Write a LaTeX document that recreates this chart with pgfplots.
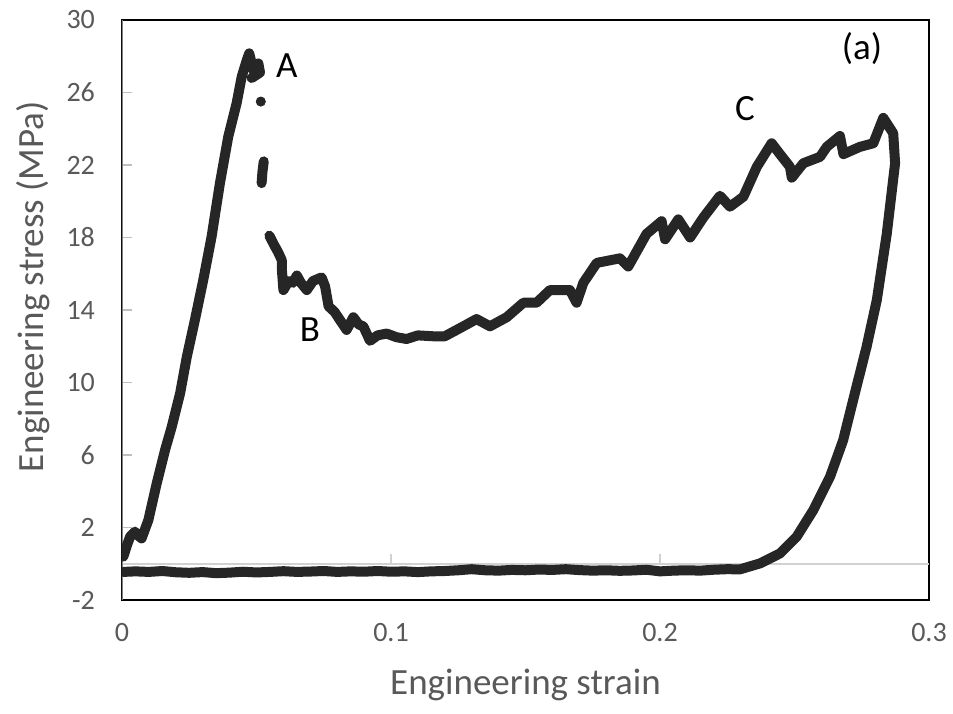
\documentclass[border=0pt]{standalone}
\usepackage{fontspec}
\setmainfont{Carlito}
\usepackage{pgfplots}
\pgfplotsset{compat=1.18}
\definecolor{tickgray}{HTML}{595959}
\definecolor{curvecol}{HTML}{262626}
\tikzset{curve/.style={draw=curvecol, line width=5pt, line join=round, line cap=round, mark=none}}
\begin{document}
\begin{tikzpicture}
\path[use as bounding box] (-61pt,-56.5pt) rectangle (415.5pt,300pt);
\begin{axis}[
  at={(0,0)}, anchor=south west, scale only axis,
  width=403.5pt, height=290pt,
  xmin=0, xmax=0.3, ymin=-2, ymax=30,
  axis line style={black, line width=1pt},
  xtick={0,0.1,0.2,0.3}, xticklabels={0,0.1,0.2,0.3},
  ytick={-2,2,6,10,14,18,22,26,30}, yticklabels={-2,2,6,10,14,18,22,26,30},
  xtick style={draw=none},
  ytick pos=left, tick align=inside,
  ytick style={draw=black!25, line width=0.6pt},
  major tick length=5pt,
  ticklabel style={font=\fontsize{14}{16}\selectfont, text=tickgray},
  yticklabel style={xshift=-10pt},
  xticklabel style={yshift=-8pt},
  xlabel={Engineering strain},
  ylabel={Engineering stress (MPa)},
  label style={font=\fontsize{18.5}{22}\selectfont, text=tickgray},
  xlabel style={at={(axis description cs:0.5,0)}, anchor=center, yshift=-42.5pt},
  ylabel style={at={(axis description cs:-0.11,0.54)}, anchor=center},
]
\draw[black!18, line width=0.8pt] (axis cs:0,0) -- (axis cs:0.3,0);
\draw[black!18, line width=0.8pt] (axis cs:0.1,0) -- ([yshift=5pt]axis cs:0.1,0);
\draw[black!18, line width=0.8pt] (axis cs:0.2,0) -- ([yshift=5pt]axis cs:0.2,0);
\draw[black!50, line width=1.2pt] (rel axis cs:0,0) -- (rel axis cs:0,1);
% loading branch
\addplot[curve] coordinates {
(0.0005,0.39) (0.0018,1.0) (0.0030,1.49) (0.0048,1.77) (0.0060,1.55) (0.0073,1.40)
(0.0098,2.41) (0.0129,4.43) (0.0160,6.27) (0.0185,7.56) (0.0216,9.40)
(0.0241,11.42) (0.0271,13.45) (0.0302,15.65) (0.0333,18.04) (0.0364,20.99)
(0.0395,23.56) (0.0426,25.40) (0.0445,26.87) (0.0464,27.79) (0.0473,28.16)
(0.0488,27.24) (0.0507,27.6) (0.0513,27.1) (0.0482,26.8)
};
% isolated points after the peak
\addplot[only marks, mark=*, mark size=2.3pt, color=curvecol] coordinates {(0.0516,25.5)};
\addplot[curve] coordinates {(0.0527,22.2) (0.0522,21.6) (0.0519,21.0)};
% plateau, densification, unloading and return
\addplot[curve] coordinates {
(0.0548,18.1) (0.0565,17.6) (0.058,17.2) (0.0594,16.75) (0.0594,16.3)
(0.060,15.1) (0.062,15.6) (0.0635,15.5) (0.065,15.9) (0.0665,15.5)
(0.0687,15.1) (0.071,15.6) (0.0742,15.8) (0.0755,15.3) (0.0768,14.2)
(0.079,13.9) (0.081,13.45) (0.0835,12.9) (0.086,13.6) (0.088,13.2)
(0.0897,13.1) (0.0922,12.3) (0.095,12.6) (0.0984,12.7) (0.102,12.5)
(0.1058,12.4) (0.11,12.6) (0.1157,12.55) (0.12,12.55) (0.1269,13.1)
(0.1318,13.5) (0.1368,13.1) (0.143,13.6) (0.1492,14.4) (0.1541,14.4)
(0.1591,15.1) (0.1665,15.1) (0.169,14.4) (0.1715,15.5) (0.1765,16.6)
(0.1851,16.85) (0.1882,16.4) (0.195,18.2) (0.2006,18.9) (0.2019,17.9)
(0.2068,19.0) (0.2112,18.0) (0.2161,19.1) (0.2223,20.3) (0.226,19.7)
(0.231,20.25) (0.236,21.9) (0.2415,23.2) (0.2446,22.6) (0.2483,21.9)
(0.249,21.3) (0.2533,22.1) (0.2595,22.45) (0.262,23.0) (0.2669,23.6)
(0.2682,22.6) (0.2743,23.0) (0.2793,23.2) (0.283,24.6) (0.2867,23.75)
(0.2874,22.1) (0.2843,18.2) (0.2806,14.55) (0.2768,11.97) (0.2718,9.03)
(0.2681,6.82) (0.2632,4.8) (0.257,2.96) (0.2508,1.49) (0.2446,0.57)
(0.2372,0.02) (0.2297,-0.31) (0.225,-0.30) (0.22,-0.33) (0.215,-0.38)
(0.21,-0.36) (0.205,-0.38) (0.20,-0.42) (0.195,-0.33) (0.19,-0.37)
(0.185,-0.39) (0.18,-0.36) (0.175,-0.38) (0.17,-0.35) (0.165,-0.30)
(0.16,-0.34) (0.155,-0.32) (0.15,-0.36) (0.145,-0.34) (0.14,-0.38)
(0.135,-0.36) (0.13,-0.30) (0.125,-0.36) (0.12,-0.40) (0.115,-0.42)
(0.11,-0.46) (0.105,-0.42) (0.10,-0.44) (0.095,-0.40) (0.09,-0.44)
(0.085,-0.42) (0.08,-0.45) (0.075,-0.40) (0.07,-0.43) (0.065,-0.45)
(0.06,-0.41) (0.055,-0.45) (0.05,-0.48) (0.045,-0.44) (0.04,-0.49)
(0.035,-0.52) (0.03,-0.46) (0.025,-0.50) (0.02,-0.47) (0.015,-0.40)
(0.01,-0.45) (0.005,-0.42) (0.0005,-0.45)
};
\node[font=\fontsize{18.5}{22}\selectfont] at (axis cs:0.0613,27.5) {A};
\node[font=\fontsize{18.5}{22}\selectfont] at (axis cs:0.0699,12.9) {B};
\node[font=\fontsize{18.5}{22}\selectfont] at (axis cs:0.2316,25.1) {C};
\node[font=\fontsize{18.5}{22}\selectfont] at (axis cs:0.2751,28.45) {(a)};
\end{axis}
\end{tikzpicture}
\end{document}
